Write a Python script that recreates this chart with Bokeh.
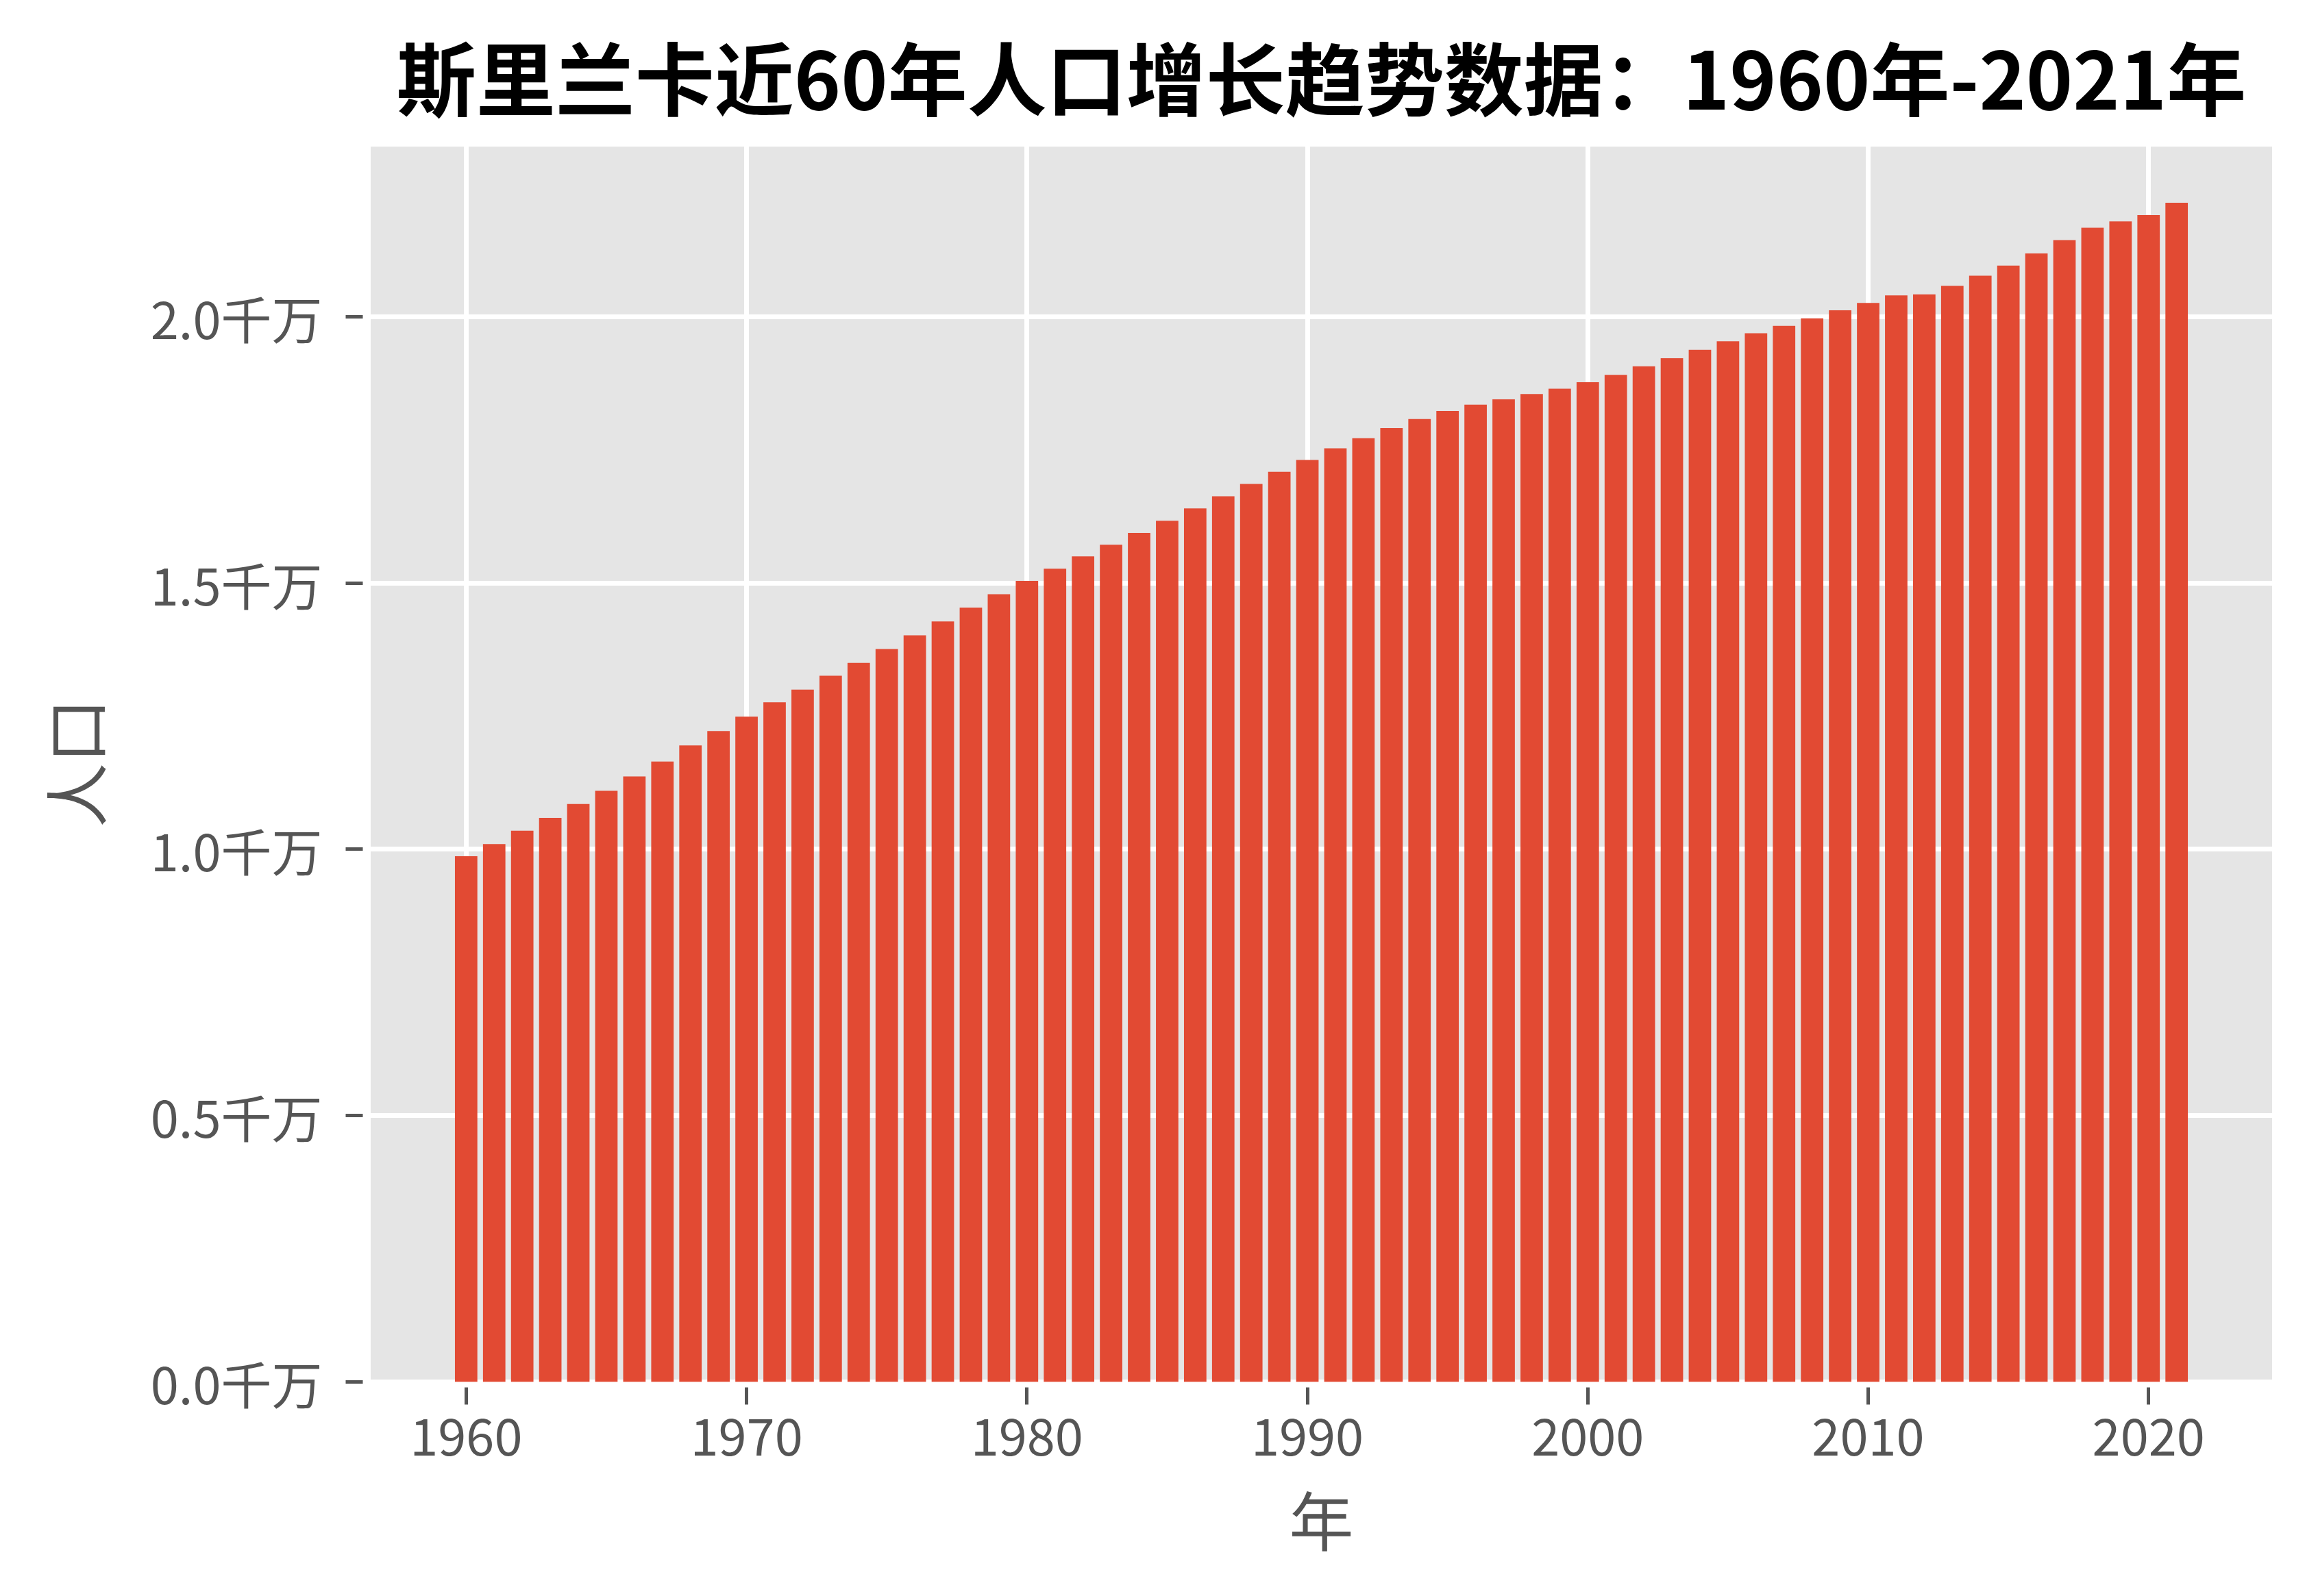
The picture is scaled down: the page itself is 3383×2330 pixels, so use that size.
from bokeh.plotting import figure
from bokeh.models import Range1d, FixedTicker, ColumnDataSource
from bokeh.embed import file_html
from bokeh.resources import INLINE

title_text = "斯里兰卡近60年人口增长趋势数据：1960年-2021年"
x_label = "年"
y_label = "人口"

years = list(range(1960, 2022))
population = [
    9870000, 10100000, 10350000, 10590000, 10850000, 11100000, 11370000, 11650000,
    11950000, 12220000, 12490000, 12760000, 13000000, 13260000, 13500000, 13760000,
    14020000, 14280000, 14540000, 14790000, 15040000, 15270000, 15500000, 15720000,
    15940000, 16170000, 16400000, 16630000, 16860000, 17090000, 17310000, 17530000,
    17720000, 17910000, 18080000, 18230000, 18350000, 18450000, 18550000, 18650000,
    18770000, 18910000, 19070000, 19220000, 19380000, 19540000, 19690000, 19830000,
    19970000, 20120000, 20260000, 20400000, 20420000, 20580000, 20770000, 20960000,
    21190000, 21440000, 21670000, 21790000, 21910000, 22140000,
]

y_ticks = [0, 5000000, 10000000, 15000000, 20000000]
y_tick_labels = ["0.0千万", "0.5千万", "1.0千万", "1.5千万", "2.0千万"]
x_ticks = [1960, 1970, 1980, 1990, 2000, 2010, 2020]
x_tick_labels = ["1960", "1970", "1980", "1990", "2000", "2010", "2020"]

FONT = "Noto Sans CJK SC"
TXT = "#555555"

src = ColumnDataSource(dict(year=years, pop=population))

p = figure(width=3383, height=2330, output_backend="svg", toolbar_location=None,
           x_range=Range1d(1956.51, 2024.49), y_range=Range1d(0, 23240000))

p.min_border_left = 537
p.min_border_right = 64
p.min_border_top = 210
p.min_border_bottom = 313
p.background_fill_color = "#E5E5E5"
p.border_fill_color = "white"
p.outline_line_color = "white"
p.outline_line_width = 7

p.vbar(x="year", top="pop", width=0.8, source=src, fill_color="#E24A33",
       line_color=None)

p.title.text = title_text
p.title.text_font = FONT
p.title.text_font_size = "116px"
p.title.text_font_style = "bold"
p.title.text_color = "black"
p.title.align = "center"
p.title.offset = 0
p.title.standoff = 36

for g in (p.xgrid[0], p.ygrid[0]):
    g.grid_line_color = "white"
    g.grid_line_width = 7
p.xgrid[0].ticker = FixedTicker(ticks=x_ticks)
p.ygrid[0].ticker = FixedTicker(ticks=y_ticks)

xa = p.xaxis[0]
xa.ticker = FixedTicker(ticks=x_ticks)
xa.major_label_overrides = {t: l for t, l in zip(x_ticks, x_tick_labels)}
ya = p.yaxis[0]
ya.ticker = FixedTicker(ticks=y_ticks)
ya.major_label_overrides = {t: l for t, l in zip(y_ticks, y_tick_labels)}

for ax in (xa, ya):
    ax.axis_line_color = None
    ax.minor_tick_line_color = None
    ax.major_tick_line_color = TXT
    ax.major_tick_line_width = 5
    ax.major_tick_in = -8
    ax.major_tick_out = 33
    ax.major_label_text_font = FONT
    ax.major_label_text_font_size = "74px"
    ax.major_label_text_color = TXT
    ax.axis_label_text_font = FONT
    ax.axis_label_text_font_size = "94px"
    ax.axis_label_text_color = TXT
    ax.axis_label_text_font_style = "normal"

xa.axis_label = x_label
xa.major_label_standoff = 20
xa.axis_label_standoff = 20
ya.axis_label = y_label
ya.major_label_standoff = 34
ya.axis_label_standoff = 42

open("out.html", "w").write(file_html(p, INLINE))
